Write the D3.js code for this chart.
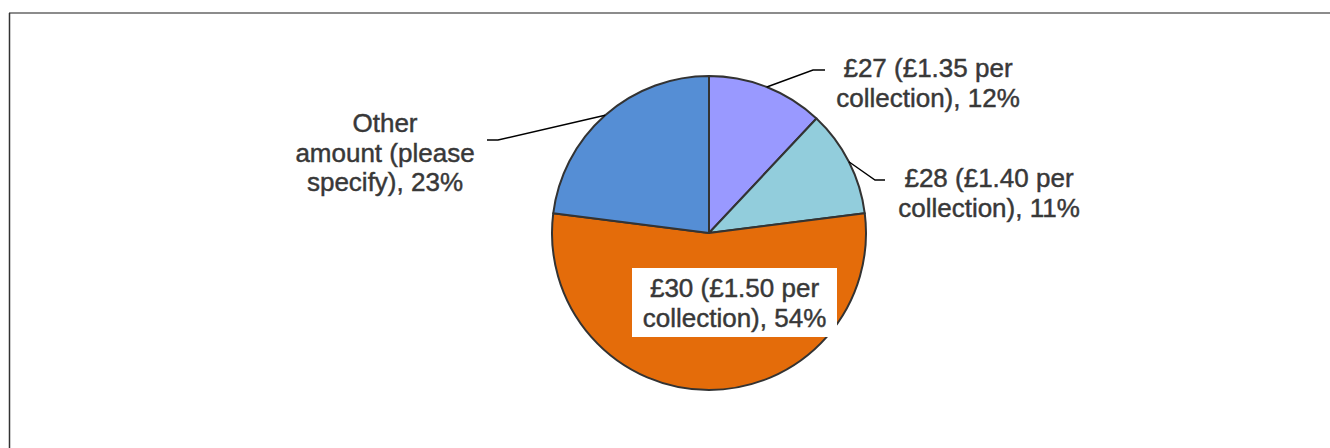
<!DOCTYPE html>
<html>
<head>
<meta charset="utf-8">
<script src="https://cdn.jsdelivr.net/npm/d3@7"></script>
<style>
  html, body { margin: 0; padding: 0; background: #fff; }
  svg { display: block; }
  text { font-family: "Liberation Sans", Arial, sans-serif; fill: #383838; stroke: #383838; stroke-width: 0.45px; }
</style>
</head>
<body>
<script>
// Response shares for the proposed charge
const categories = [
  "£27 (£1.35 per collection)",
  "£28 (£1.40 per collection)",
  "£30 (£1.50 per collection)",
  "Other amount (please specify)"
];
const shares = [12, 11, 54, 23];
const labelLines = [
  ["£27 (£1.35 per", "collection), 12%"],
  ["£28 (£1.40 per", "collection), 11%"],
  ["£30 (£1.50 per", "collection), 54%"],
  ["Other", "amount (please", "specify), 23%"]
];
const colors = ["#9999FF", "#92CDDC", "#E46C0A", "#558ED5"];

const W = 1330, H = 448;
const cx = 709, cy = 233, R = 157;
const fontSize = 26, lineH = 29.5;

const svg = d3.select("body").append("svg").attr("width", W).attr("height", H);

// Frame edges
svg.append("line").attr("x1", 9).attr("x2", W).attr("y1", 13).attr("y2", 13)
  .attr("stroke", "#8c8c8c").attr("stroke-width", 2);
svg.append("line").attr("x1", 9.5).attr("x2", 9.5).attr("y1", 13).attr("y2", H)
  .attr("stroke", "#333").attr("stroke-width", 1.5);

const pie = d3.pie().sort(null).value(d => d);
const arcs = pie(shares);
const arc = d3.arc().innerRadius(0).outerRadius(R);

const g = svg.append("g").attr("transform", `translate(${cx},${cy})`);
g.selectAll("path.slice").data(arcs).join("path")
  .attr("class", "slice")
  .attr("d", arc)
  .attr("fill", (d, i) => colors[i])
  .attr("stroke", "#333")
  .attr("stroke-width", 2)
  .attr("stroke-linejoin", "round");

// Label placement: text centre (x), first baseline (y), leader elbow offsets
const layout = [
  { x: 928, y: 77, leader: [[813, 70], [825, 70]] },
  { x: 989, y: 187, leader: [[875, 180], [885, 180]] },
  { x: 734.5, y: 297, box: true },
  { x: 385, y: 132, leader: [[498, 140], [487, 140]] }
];

const edgePoint = d => {
  const a = (d.startAngle + d.endAngle) / 2;
  return [cx + R * Math.sin(a), cy - R * Math.cos(a)];
};

arcs.forEach((d, i) => {
  const L = layout[i];
  if (L.leader) {
    const pts = [edgePoint(d), ...L.leader];
    svg.append("path")
      .attr("d", d3.line()(pts))
      .attr("fill", "none").attr("stroke", "#000").attr("stroke-width", 1.4);
  }
  const lines = labelLines[i];
  if (L.box) {
    svg.append("rect")
      .attr("x", 632).attr("y", 268).attr("width", 205).attr("height", 69)
      .attr("fill", "#fff");
  }
  const t = svg.append("text")
    .attr("text-anchor", "middle")
    .attr("font-size", fontSize);
  lines.forEach((s, k) => {
    t.append("tspan").attr("x", L.x).attr("y", L.y + k * lineH).text(s);
  });
});
</script>
</body>
</html>
